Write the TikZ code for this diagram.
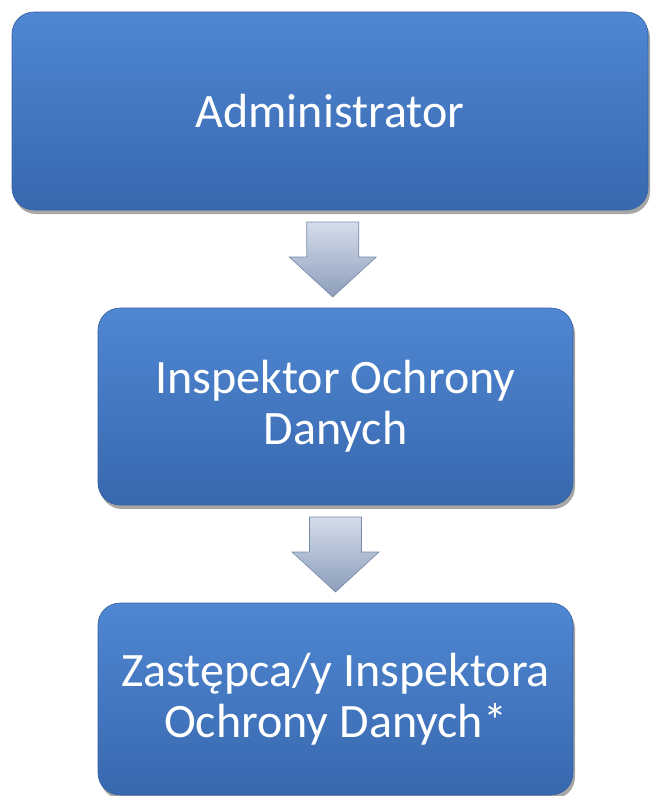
\documentclass[tikz,border=0pt]{standalone}
\usepackage{fontspec}
\setmainfont{Carlito}
\usetikzlibrary{shadows,calc}
\definecolor{boxtop}{RGB}{79,135,210}
\definecolor{boxbot}{RGB}{56,104,174}
\definecolor{boxedge}{RGB}{52,95,160}
\definecolor{arrtop}{RGB}{212,221,235}
\definecolor{arrbot}{RGB}{140,157,186}
\definecolor{arredge}{RGB}{120,138,170}
\begin{document}
\begin{tikzpicture}[x=1pt,y=-1pt,
  box/.style={draw=boxedge, line width=0.6pt, rounded corners=22pt, top color=boxtop, bottom color=boxbot,
    drop shadow={shadow xshift=2pt, shadow yshift=-4pt, opacity=0.35, fill=black},
    text=white, font=\fontsize{48}{51}\selectfont, align=center, inner sep=0pt},
  blockarrow/.style={draw=arredge, line width=0.6pt, top color=arrtop, bottom color=arrbot}]
\useasboundingbox (0,0) rectangle (655,796);
\node[box, minimum width=636pt, minimum height=198pt] (a) at (330,111) {Administrator};
\node[box, minimum width=475pt, minimum height=197pt] (b) at (335.5,406.5) {Inspektor Ochrony\\Danych};
\node[box, minimum width=475pt, minimum height=192pt] (c) at (335.5,699) {Zastępca/y Inspektora\\Ochrony Danych*};
\coordinate (m1) at ($(a.south)!0.5!(b.north)$);
\coordinate (m2) at ($(b.south)!0.5!(c.north)$);
\foreach \m in {m1,m2}{
  \path[blockarrow] ($(\m)+(-26,-37)$) -- ($(\m)+(26,-37)$) -- ($(\m)+(26,-2)$) -- ($(\m)+(43.5,-2)$)
    -- ($(\m)+(0,38)$) -- ($(\m)+(-43.5,-2)$) -- ($(\m)+(-26,-2)$) -- cycle;
}
\end{tikzpicture}
\end{document}
